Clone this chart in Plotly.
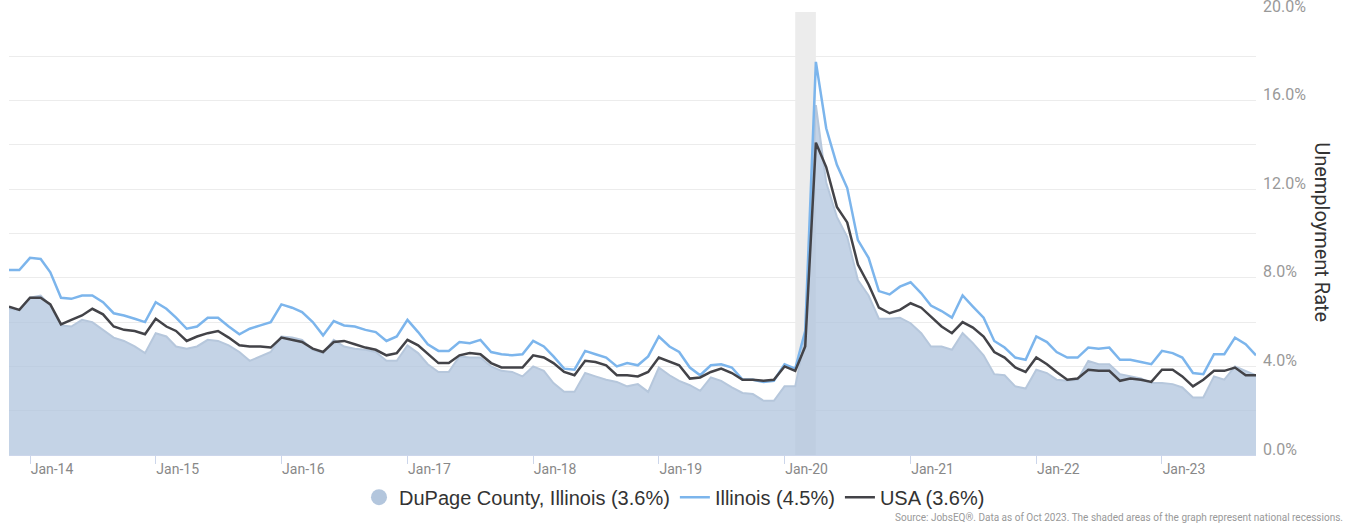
import pandas as pd
import plotly.graph_objects as go

start_month = "2013-11-01"
n_months = 120
months = pd.date_range(start_month, periods=n_months, freq="MS")

dupage = [
    6.6, 6.55,
    7.1, 7.2, 6.75, 5.85, 5.8, 6.1, 6.0, 5.65, 5.3, 5.15, 4.9, 4.6,
    5.5, 5.35, 4.9, 4.8, 4.9, 5.2, 5.15, 4.95, 4.65, 4.25, 4.45, 4.65,
    5.35, 5.3, 5.2, 4.75, 4.6, 5.2, 4.9, 4.8, 4.75, 4.65, 4.25, 4.25,
    4.95, 4.6, 4.1, 3.75, 3.75, 4.45, 4.4, 4.4, 4.0, 3.8, 3.75, 3.55,
    4.0, 3.8, 3.25, 2.85, 2.85, 3.7, 3.55, 3.4, 3.3, 3.1, 3.2, 2.85,
    3.95, 3.6, 3.35, 3.15, 2.9, 3.5, 3.35, 3.05, 2.8, 2.75, 2.45, 2.45,
    3.1, 3.1, 5.3, 15.8, 12.3, 10.75, 9.85, 7.9, 7.2, 6.15, 6.15, 6.2,
    5.95, 5.5, 4.9, 4.9, 4.75, 5.5, 5.05, 4.5, 3.65, 3.6, 3.1, 3.0,
    3.85, 3.7, 3.4, 3.35, 3.4, 4.25, 4.1, 4.1, 3.65, 3.55, 3.45, 3.25,
    3.25, 3.2, 3.05, 2.6, 2.6, 3.55, 3.4, 4.0, 3.8, 3.6,
]

illinois = [
    8.35, 8.35,
    8.9, 8.85, 8.25, 7.1, 7.05, 7.2, 7.2, 6.9, 6.4, 6.3, 6.15, 6.0,
    6.9, 6.6, 6.2, 5.7, 5.8, 6.2, 6.2, 5.8, 5.45, 5.7, 5.85, 6.0,
    6.8, 6.65, 6.45, 6.0, 5.4, 6.05, 5.85, 5.8, 5.65, 5.55, 5.15, 5.35,
    6.1, 5.55, 5.0, 4.7, 4.7, 5.1, 5.05, 5.2, 4.65, 4.55, 4.5, 4.55,
    5.15, 4.9, 4.45, 3.9, 3.85, 4.7, 4.55, 4.4, 4.0, 4.15, 4.05, 4.45,
    5.35, 4.9, 4.65, 3.95, 3.6, 4.05, 4.1, 3.95, 3.4, 3.4, 3.3, 3.35,
    4.1, 3.9, 5.6, 17.75, 14.75, 13.1, 12.05, 9.7, 8.9, 7.4, 7.25, 7.6,
    7.8, 7.3, 6.75, 6.5, 6.2, 7.2, 6.7, 6.2, 5.15, 4.85, 4.4, 4.3,
    5.35, 5.1, 4.65, 4.4, 4.4, 4.85, 4.8, 4.85, 4.3, 4.3, 4.2, 4.1,
    4.7, 4.6, 4.4, 3.7, 3.65, 4.55, 4.55, 5.3, 5.0, 4.5,
]

usa = [
    6.7, 6.55,
    7.1, 7.1, 6.8, 5.9, 6.1, 6.3, 6.6, 6.35, 5.8, 5.65, 5.6, 5.45,
    6.15, 5.8, 5.6, 5.15, 5.35, 5.5, 5.6, 5.3, 4.95, 4.9, 4.9, 4.85,
    5.3, 5.2, 5.1, 4.8, 4.65, 5.1, 5.15, 5.0, 4.85, 4.75, 4.5, 4.6,
    5.2, 4.95, 4.55, 4.15, 4.15, 4.5, 4.6, 4.55, 4.15, 3.95, 3.95, 3.95,
    4.5, 4.4, 4.15, 3.75, 3.6, 4.25, 4.2, 4.05, 3.6, 3.6, 3.55, 3.75,
    4.4, 4.2, 4.05, 3.45, 3.5, 3.75, 3.9, 3.7, 3.4, 3.4, 3.35, 3.4,
    4.0, 3.8, 4.9, 14.1, 13.0, 11.2, 10.5, 8.6, 7.7, 6.65, 6.4, 6.55,
    6.85, 6.65, 6.25, 5.8, 5.5, 6.0, 5.75, 5.35, 4.65, 4.4, 3.95, 3.75,
    4.4, 4.1, 3.75, 3.4, 3.45, 3.85, 3.8, 3.8, 3.35, 3.45, 3.4, 3.3,
    3.85, 3.85, 3.55, 3.1, 3.4, 3.8, 3.8, 3.95, 3.6, 3.6,
]

series_names = ["DuPage County, Illinois (3.6%)", "Illinois (4.5%)", "USA (3.6%)"]
tick_years = list(range(2014, 2024))
tick_dates = [f"{y}-01-01" for y in tick_years]
tick_labels = [f"Jan-{str(y)[2:]}" for y in tick_years]
y_ticks = [0, 4, 8, 12, 16, 20]
y_tick_labels = [f"{v:.1f}%" for v in y_ticks]
recession = ["2020-02-01", "2020-04-01"]
source_text = "Source: JobsEQ®. Data as of Oct 2023. The shaded areas of the graph represent national recessions."
axis_title = "Unemployment Rate"

fig = go.Figure()

# legend-only symbol for the area series (circle)
fig.add_trace(go.Scatter(
    x=[None], y=[None], mode="markers", name=series_names[0],
    marker=dict(symbol="circle", size=20, color="#b3c6dd"),
))
fig.add_trace(go.Scatter(
    x=months, y=dupage, mode="lines", fill="tozeroy", showlegend=False,
    name=series_names[0],
    line=dict(color="#b6c7dc", width=2),
    fillcolor="rgba(176,196,222,0.75)",
))
fig.add_trace(go.Scatter(
    x=months, y=illinois, mode="lines", name=series_names[1],
    line=dict(color="#7cb5ec", width=2.5),
))
fig.add_trace(go.Scatter(
    x=months, y=usa, mode="lines", name=series_names[2],
    line=dict(color="#434348", width=2.5),
))

fig.add_vrect(x0=recession[0], x1=recession[1], fillcolor="#ececec",
              line_width=0, layer="below")

fig.update_layout(
    width=1349, height=525,
    margin=dict(l=9, r=93, t=12, b=70, autoexpand=False),
    paper_bgcolor="white", plot_bgcolor="white",
    font=dict(family="Roboto", color="#333333"),
    showlegend=True,
    legend=dict(
        orientation="h", xref="container", yref="container",
        x=0.5, xanchor="center", y=0.053, yanchor="middle",
        font=dict(family="Liberation Sans, Arial", size=20, color="#333333"),
        itemwidth=30, traceorder="normal", bgcolor="rgba(0,0,0,0)",
    ),
    xaxis=dict(
        type="date", range=[months[0], months[-1]],
        tickvals=tick_dates, ticktext=tick_labels,
        ticks="outside", ticklen=8, tickcolor="#ccd6eb",
        showgrid=False, zeroline=False,
        showline=True, linecolor="#ccd6eb",
        tickfont=dict(family="Roboto", size=14, color="#888888"),
        ticklabelshift=22, ticklabelstandoff=-7,
        automargin=False,
    ),
    yaxis=dict(
        side="right", range=[0, 20],
        tickvals=y_ticks, ticktext=y_tick_labels,
        showgrid=True, gridcolor="#ececec", gridwidth=1,
        minor=dict(dtick=2, showgrid=True, gridcolor="#ececec", gridwidth=1),
        zeroline=False, ticks="",
        tickfont=dict(family="Roboto", size=16, color="#999999"),
        ticklabelshift=-6, ticklabelstandoff=6,
        ticklabeloverflow="allow",
        automargin=False,
    ),
    annotations=[
        dict(text=axis_title, textangle=90, xref="paper", yref="paper",
             x=1.0529, y=0.503, xanchor="center", yanchor="middle",
             showarrow=False, font=dict(family="Roboto", size=20, color="#333333")),
        dict(text=source_text, xref="paper", yref="paper",
             x=1.0714, y=-0.1422, xanchor="right", yanchor="middle",
             showarrow=False, font=dict(family="Roboto", size=10, color="#999999")),
    ],
)

fig.write_html("out.html", config={"displayModeBar": False},
               post_script="document.body.style.margin='0';document.body.style.overflow='hidden';")
